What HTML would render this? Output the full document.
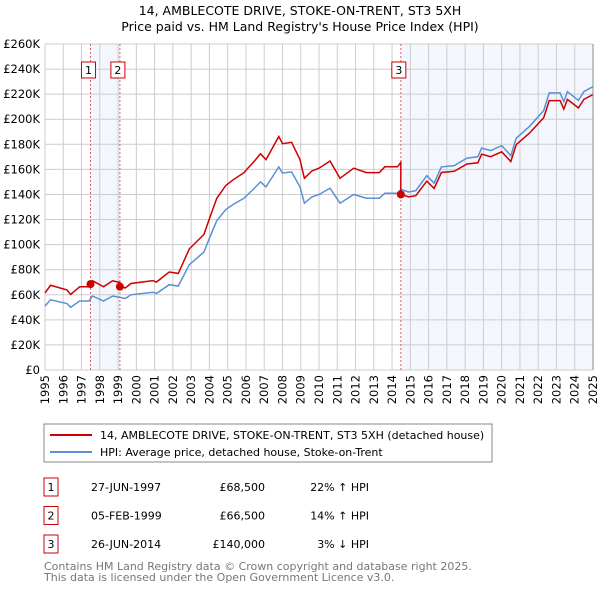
<!DOCTYPE html>
<html><head><meta charset="utf-8"><style>
body{margin:0;background:#fff;font-family:"Liberation Sans","DejaVu Sans",sans-serif;}
svg text{font-family:"DejaVu Sans","Liberation Sans",sans-serif;}
</style></head><body>
<svg id="c" width="600" height="590" xmlns="http://www.w3.org/2000/svg">
<text x="300" y="15" text-anchor="middle" font-size="12.5" fill="#000">14, AMBLECOTE DRIVE, STOKE-ON-TRENT, ST3 5XH</text>
<text x="300" y="31" text-anchor="middle" font-size="12.5" fill="#000">Price paid vs. HM Land Registry's House Price Index (HPI)</text>
<g id="plot"></g>
<g id="legend">
<rect x="44" y="424" width="448" height="38" fill="#fff" stroke="#888"/>
<line x1="50" y1="435" x2="92" y2="435" stroke="#cc0000" stroke-width="2"/>
<text x="100" y="439" font-size="11">14, AMBLECOTE DRIVE, STOKE-ON-TRENT, ST3 5XH (detached house)</text>
<line x1="50" y1="452" x2="92" y2="452" stroke="#5b8fd6" stroke-width="2"/>
<text x="100" y="456" font-size="11">HPI: Average price, detached house, Stoke-on-Trent</text>
</g>
<g id="table" font-size="11"></g>
<text x="44" y="570" font-size="11" fill="#777">Contains HM Land Registry data © Crown copyright and database right 2025.</text>
<text x="44" y="581" font-size="11" fill="#777">This data is licensed under the Open Government Licence v3.0.</text>
</svg>
<script>
const hpiYears=[1995,1995.3,1996.2,1996.4,1996.9,1997.4,1997.6,1998.2,1998.7,1999.4,1999.7,2000.9,2001.1,2001.8,2002.3,2002.9,2003.7,2004.0,2004.4,2004.9,2005.3,2005.9,2006.1,2006.4,2006.8,2007.1,2007.8,2008.0,2008.5,2008.96,2009.2,2009.6,2010.0,2010.6,2011.15,2011.9,2012.6,2013.3,2013.6,2014.3,2014.48,2014.9,2015.3,2015.9,2016.3,2016.7,2017.4,2018.1,2018.7,2018.9,2019.4,2020.0,2020.5,2020.8,2021.5,2022.3,2022.6,2023.2,2023.4,2023.6,2024.2,2024.5,2025.0];
const hpiValues=[51,56,53,50,55,55,59,55,59,57,60,62,61,68,67,84,94,105,119,128,132,137,140,144,150,146,162,157,158,146,133,138,140,145,133,140,137,137,141,141,144,142,143,155,149,162,163,169,170,177,175,179,171,185,194,207,221,221,214,222,215,222,226];
const saleLabels=["1","2","3"];
const saleDates=[1997.49,1999.1,2014.48];
const salePrices=[68500,66500,140000];
const saleDateText=["27-JUN-1997","05-FEB-1999","26-JUN-2014"];
const salePriceText=["£68,500","£66,500","£140,000"];
const saleDiffText=["22% \u2191 HPI","14% \u2191 HPI","3% \u2193 HPI"];
const yTicks=[0,20,40,60,80,100,120,140,160,180,200,220,240,260];
const xTicks=[1995,1996,1997,1998,1999,2000,2001,2002,2003,2004,2005,2006,2007,2008,2009,2010,2011,2012,2013,2014,2015,2016,2017,2018,2019,2020,2021,2022,2023,2024,2025];

const X0=45,X1=593,Y0=370,Y1=44;
const xs=y=>X0+(y-1995)/30*(X1-X0);
const ys=v=>Y0-v/260*(Y0-Y1);
const NS="http://www.w3.org/2000/svg";
const plot=document.getElementById('plot');
function mk(tag,attrs,parent){const e=document.createElementNS(NS,tag);for(const k in attrs)e.setAttribute(k,attrs[k]);(parent||plot).appendChild(e);return e;}
function hpiAt(t){for(let i=1;i<hpiYears.length;i++){if(t<=hpiYears[i]){const f=(t-hpiYears[i-1])/(hpiYears[i]-hpiYears[i-1]);return hpiValues[i-1]+f*(hpiValues[i]-hpiValues[i-1]);}}return hpiValues[hpiValues.length-1];}

let sh=mk('rect',{x:xs(saleDates[0]),y:Y1,width:xs(saleDates[1])-xs(saleDates[0]),height:Y0-Y1,fill:'#eef3fc',opacity:0.7});


let sh2=mk('rect',{x:xs(saleDates[2]),y:Y1,width:X1-xs(saleDates[2]),height:Y0-Y1,fill:'#eef3fc',opacity:0.7});


yTicks.forEach(v=>{const l=mk('line',{x1:X0,x2:X1,y1:ys(v),y2:ys(v),stroke:'#cccccc'});


const t=mk('text',{x:X0-5,y:ys(v)+4,'text-anchor':'end','font-size':'11.5'});t.textContent=v===0?'£0':'£'+v+'K';

});
xTicks.forEach(yr=>{const l=mk('line',{x1:xs(yr),x2:xs(yr),y1:Y1,y2:Y0,stroke:'#cccccc'});


const t=mk('text',{x:0,y:0,'font-size':'11.5','text-anchor':'end',transform:`translate(${xs(yr)+4},${Y0+5}) rotate(-90)`});t.textContent=yr;

});
saleDates.forEach((d,i)=>{const l=mk('line',{x1:xs(d),x2:xs(d),y1:Y1,y2:Y0,stroke:'#e06060','stroke-dasharray':'2,2'});


const r=mk('rect',{x:xs(d)-9,y:62,width:14,height:16,fill:'#fff',stroke:'#cc0000'});


const t=mk('text',{x:xs(d)-2,y:74,'text-anchor':'middle','font-size':'11'});t.textContent=saleLabels[i];

});
const hp=hpiYears.map((y,i)=>xs(y).toFixed(1)+','+ys(hpiValues[i]).toFixed(1)).join(' ');
const hl=mk('polyline',{points:hp,fill:'none',stroke:'#5b8fd6','stroke-width':1.5});


function ratioAt(t){let k=0;for(let i=0;i<saleDates.length;i++)if(t>=saleDates[i])k=i;return salePrices[k]/1000/hpiAt(saleDates[k]);}
let pts=[];
const times=[...hpiYears];
saleDates.forEach(d=>{times.push(d-0.001);times.push(d);});
times.sort((a,b)=>a-b);
times.forEach(t=>pts.push(xs(t).toFixed(1)+','+ys(hpiAt(t)*ratioAt(t)).toFixed(1)));
const pl=mk('polyline',{points:pts.join(' '),fill:'none',stroke:'#cc0000','stroke-width':1.5});


saleDates.forEach((d,i)=>{const c=mk('circle',{cx:xs(d),cy:ys(salePrices[i]/1000),r:4,fill:'#cc0000'});

});
const ax=mk('line',{x1:X1,x2:X1,y1:Y1,y2:Y0,stroke:'#888'});


const tb=document.getElementById('table');
saleLabels.forEach((s,i)=>{const y=487+i*28.5;
const r=mk('rect',{x:44,y:y-9,width:14,height:18,fill:'#fff',stroke:'#cc0000'},tb);


const a=mk('text',{x:51,y:y+4,'text-anchor':'middle'},tb);a.textContent=s;


const b=mk('text',{x:91,y:y+4},tb);b.textContent=saleDateText[i];


const c=mk('text',{x:265,y:y+4,'text-anchor':'end'},tb);c.textContent=salePriceText[i];


const e=mk('text',{x:369,y:y+4,'text-anchor':'end'},tb);e.textContent=saleDiffText[i];

});
</script>
</body></html>
